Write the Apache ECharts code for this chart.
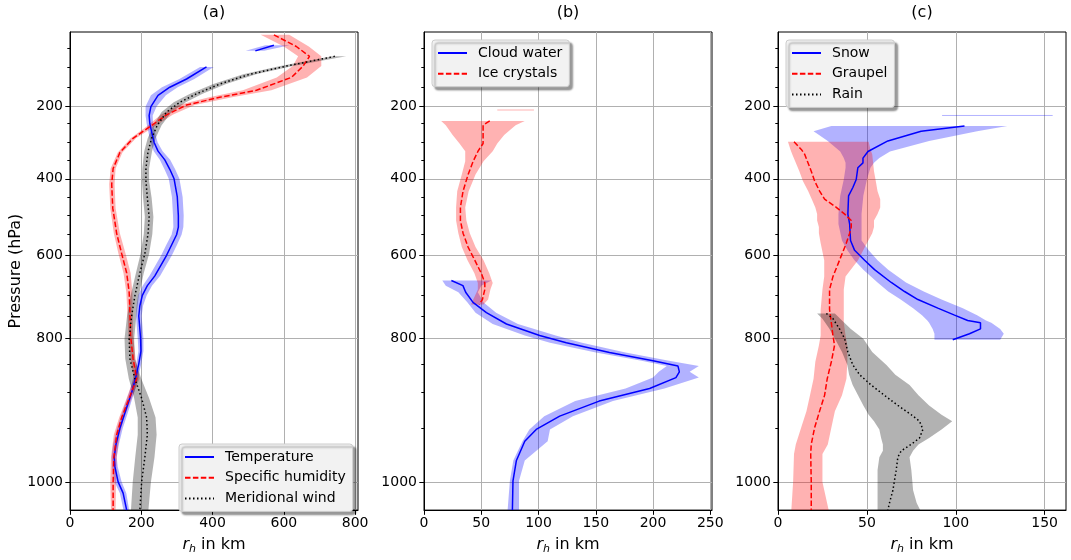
<!DOCTYPE html>
<html><head><meta charset="utf-8">
<script src="https://cdn.jsdelivr.net/npm/echarts@6/dist/echarts.min.js"></script>
<style>html,body{margin:0;padding:0;background:#fff}#c{width:1071px;height:560px}</style>
</head><body><div id="c"></div>
<script>
// ---- pressure axis scale (model-level spacing: hPa -> fraction of axis height) ----
const P_SCALE_HPA = [10,50,100,150,200,250,300,350,400,450,500,550,600,650,700,750,800,850,900,950,1000,1020];
const P_SCALE_POS = [0,0.0337,0.0746,0.1155,0.156,0.1918,0.231,0.2674,0.307,0.345,0.384,0.424,0.467,0.510,0.551,0.594,0.6405,0.694,0.754,0.829,0.941,1];
const P_MAJOR = [200,400,600,800,1000];
const P_MINOR = [50,100,150,250,300,350,450,500,550,650,700,750,850,900,950];

// ---- x axes ----
const X_TICKS_A = [0,200,400,600,800];  const X_MAX_A = 808;
const X_TICKS_B = [0,50,100,150,200,250]; const X_MAX_B = 251.5;
const X_TICKS_C = [0,50,100,150];         const X_MAX_C = 162;

// ---- panel titles / legends ----
const PANEL_TITLES = ['(a)','(b)','(c)'];
const LEGEND_A = ['Temperature','Specific humidity','Meridional wind'];
const LEGEND_B = ['Cloud water','Ice crystals'];
const LEGEND_C = ['Snow','Graupel','Rain'];

// ---- panel (a) ----
const TEMP_P   = [43,57,null,98,129,150,171,200,226,250,272,300,325,350,375,400,450,500,530,550,575,600,650,675,700,725,750,800,825,850,875,900,921,950,965,977,986,1000,1008,1020];
const TEMP_MID = [572,520,null,383,327,280,247,227,222,224,229,236,247,266,280,292,301,304,304,299,285,271,238,217,203,196,193,198,199,193,184,173,159,140,129,124,126,135,149,159];
const TEMP_LO  = [548,493,null,365,307,258,227,212,212,215,220,226,235,252,265,277,286,289,290,285,270,256,223,204,191,187,185,190,192,186,177,166,151,132,121,117,118,125,140,150];
const TEMP_HI  = [616,545,null,403,349,302,269,243,232,233,238,246,260,281,295,307,316,319,318,313,300,286,253,230,215,205,201,206,206,200,191,180,167,148,137,131,134,145,158,166];

const QV_P   = [17,46,71,96,125,158,176,196,224,258,289,329,373,415,480,547,596,643,692,742,794,840,876,912,935,956,977,1000,1020];
const QV_MID = [572,635,672,654,621,523,420,327,271,224,177,140,121,117,120,131,145,159,166,168,170,177,187,163,145,131,123,121,121];
const QV_LO  = [535,600,640,625,580,485,390,305,255,214,170,134,114,110,113,123,136,150,158,161,164,170,179,156,138,123,115,113,115];
const QV_HI  = [615,670,705,705,665,565,455,350,288,236,185,147,128,125,128,140,156,170,175,176,177,184,195,170,152,139,131,129,128];

const V_P   = [71,96,117,142,167,189,216,254,289,326,372,406,452,504,548,596,643,701,750,801,840,876,908,935,956,977,1000,1020];
const V_MID = [743,607,504,420,355,308,271,245,229,219,213,213,217,222,219,210,196,182,173,166,168,182,201,215,217,210,201,196];
const V_LO  = [735,590,486,402,337,291,257,234,218,208,203,202,205,210,207,198,185,170,160,153,155,165,180,190,190,183,176,171];
const V_HI  = [775,625,522,438,372,325,285,257,240,230,222,222,229,234,231,222,207,193,186,180,182,200,222,240,243,237,227,220];

// ---- panel (b) ----
const QC_P   = [662,675,692,717,742,768,794,809,828,844,854,864,874,893,912,933,951,962,980,999,1020];
const QC_MID = [23.9,34,36.4,42.8,54.5,72,101,124.3,162,200,221.8,223,220,197,153,118.5,98,88,80.7,77.7,77.2];
const QC_LO  = [16,19,30,38,45,60,88,110,150,190,212,205,200,176,132,105,92,86,78,75,73];
const QC_HI  = [58.8,50,47,52,63,82,115,138,176,214,240,232,240,210,165,130,110,108,88,83,83];

const QI_P   = [210,null,242,254,280,303,325,354,389,434,478,513,546,580,612,644,668,685,710,722];
const QI_MID = [null,null,57.4,51.6,51.6,51.6,47.2,42.9,38.5,34.1,31.8,31.8,34.1,38.5,44.3,50.1,53.1,53.1,51,48.1];
const QI_LO  = [64,null,15,19,25,31,36,36,33,29,28,28,30,33,38,44,47,47,43,41];
const QI_HI  = [96,null,88,80,70,64,60,52,45,39,36,37,40,45,52,57,60,58,56,52];

// ---- panel (c) ----
const QS_P   = [226,null,256,270,296,326,345,358,371,402,424,447,496,522,564,588,612,635,667,690,710,731,748,760,765,779,790,803];
const QS_MID = [null,null,104.9,80.5,61.8,50.6,47.8,47.8,44.9,44,42.1,39.7,39.3,40.3,40.8,43.1,48.7,54.3,63.7,71.2,78.7,89.9,99.3,106.7,113.9,113.9,107.7,98.3];
const QS_LO  = [92.3,null,30,20,28,35,37,38,38,37,36,35,34,34,36,39,43,48,56,62,69,76,81,84,85,87,88,88];
const QS_HI  = [154.5,null,129,112,85,63,57,54,52,50,49,48,47,47,47,51,56,62,72,82,92,104,112,117,120,125,127,125];

const QG_P   = [298,320,334,380,406,434,456,478,496,513,530,546,571,612,652,685,734,765,794,814,846,876,904,926,949,965,974,1000,1020];
const QG_MID = [9,13.1,15,18.7,20.6,23.4,26.2,32.8,37.5,41.2,41.2,40.3,38.4,34.6,30.9,29,29,30,30.9,31.8,30,27.7,26.2,23.4,20.6,18.7,18.4,18.7,18.7];
const QG_LO  = [5.6,7,8,12,14,17,19,21,22,22,23,23,24,26,26,25,24,24,24,23,21,20,18,16,13,10,9,8.5,7.5];
const QG_HI  = [51,52,53,54,55,56,57.5,57.5,56,54,54,53,50,45,38,37,37,37,38,39,39,38.5,36,32,30,28,25,25,28.5];

const QR_P   = [744,756,779,801,827,852,869,887,904,918,931,940,951,959,965,971,977,989,1006,1015,1020];
const QR_MID = [27.2,30.9,34.6,37.5,39.3,42.1,45.9,52.4,59.9,67.4,74.9,79.6,81.5,79.6,74.9,69.3,67.4,66.5,64.6,62.7,61.8];
const QR_LO  = [22,25,29,32,36,39,40,42,45,48,51,54,57,58,59,59,57,56,56,56,56];
const QR_HI  = [32,35,41,48,53,61,66,74,79,85,92,98,92,85,79,76,74,75,76,78,80];

// ================= helpers =================
function pToPos(p){
  const P=P_SCALE_HPA, T=P_SCALE_POS;
  if (p<=P[0]) return T[0];
  for (let i=1;i<P.length;i++){ if (p<=P[i]){ const f=(p-P[i-1])/(P[i]-P[i-1]); return T[i-1]+f*(T[i]-T[i-1]); } }
  return T[T.length-1];
}
function posToP(t){
  const P=P_SCALE_HPA, T=P_SCALE_POS;
  if (t<=T[0]) return P[0];
  for (let i=1;i<T.length;i++){ if (t<=T[i]+1e-9){ const f=(t-T[i-1])/(T[i]-T[i-1]); return P[i-1]+f*(P[i]-P[i-1]); } }
  return P[P.length-1];
}
const FONT = 'DejaVu Sans';
const TICK_FS = 14, LABEL_FS = 16;
const BLUE='#0000ff', RED='#ff0000', BLACK='#000000';
const BAND_BLUE='rgba(0,0,255,0.3)', BAND_RED='rgba(255,0,0,0.3)', BAND_GRAY='rgba(0,0,0,0.3)';
const DASH=[5.5,2.4], DOT=[1.5,2.5];

function segments(p, lo, hi){
  const segs=[]; let cur=[];
  for (let i=0;i<p.length;i++){
    if (p[i]==null || lo[i]==null){ if(cur.length) segs.push(cur); cur=[]; continue; }
    cur.push({p:p[i], lo:lo[i], hi:hi[i]});
  }
  if (cur.length) segs.push(cur);
  return segs;
}
function bandSeries(gi, p, lo, hi, color){
  const segs = segments(p, lo, hi);
  return {
    type:'custom', xAxisIndex:gi, yAxisIndex:gi*2, silent:true, z:1, clip:true,
    data: segs.map(s=>[s[0].lo, pToPos(s[0].p)]),
    renderItem: function(params, api){
      const s = segs[params.dataIndex];
      const pts = s.map(d=>api.coord([d.lo, pToPos(d.p)]))
        .concat(s.slice().reverse().map(d=>api.coord([d.hi, pToPos(d.p)])));
      if (s.length===1) return {type:'polyline', shape:{points:pts}, style:{stroke:color, lineWidth:1, fill:null}};
      return {type:'polygon', shape:{points:pts}, style:{fill:color}};
    }
  };
}
function lineSeries(gi, name, p, mid, color, dash){
  return {
    type:'line', name:name, xAxisIndex:gi, yAxisIndex:gi*2, z:3,
    data: p.map((pp,i)=> (pp==null || mid[i]==null) ? ['-','-'] : [mid[i], pToPos(pp)]),
    symbol:'none', showSymbol:false, connectNulls:false, clip:true,
    lineStyle:{color:color, width:1.5, type: dash || 'solid', cap:'butt'},
    itemStyle:{color:color}
  };
}

const GRIDS = [
  {left:70, top:32, width:288, height:485},
  {left:424, top:32, width:288, height:485},
  {left:778, top:32, width:288, height:485}
];
const X_TICKS=[X_TICKS_A,X_TICKS_B,X_TICKS_C], X_MAX=[X_MAX_A,X_MAX_B,X_MAX_C];
const MAJOR_POS = P_MAJOR.map(pToPos), MINOR_POS = P_MINOR.map(pToPos);

const xAxes = GRIDS.map((g,i)=>({
  type:'value', gridIndex:i, min:0, max:X_MAX[i], position:'bottom',
  axisLine:{show:true, onZero:false, lineStyle:{color:'#000', width:1}},
  axisTick:{show:true, length:4.7, customValues:X_TICKS[i], lineStyle:{color:'#000', width:1}},
  axisLabel:{customValues:X_TICKS[i], fontSize:TICK_FS, color:'#000', fontFamily:FONT, margin:6},
  splitLine:{show:true, lineStyle:{color:'#b0b0b0', width:1}},
  name:'{i|r}{s|h}{n| in km}', nameLocation:'middle', nameGap:22,
  nameTextStyle:{color:'#000', fontFamily:FONT, fontSize:LABEL_FS, rich:{
    i:{fontStyle:'italic', fontSize:LABEL_FS, fontFamily:FONT, color:'#000', lineHeight:20},
    s:{fontStyle:'italic', fontSize:11, fontFamily:FONT, color:'#000', lineHeight:11, padding:[9,0,0,0]},
    n:{fontSize:LABEL_FS, fontFamily:FONT, color:'#000', lineHeight:20}
  }}
}));
const yAxes = [];
GRIDS.forEach((g,i)=>{
  yAxes.push({
    type:'value', gridIndex:i, min:0, max:1, inverse:true, position:'left',
    axisLine:{show:true, lineStyle:{color:'#000', width:1}},
    axisTick:{show:true, length:4.7, customValues:MAJOR_POS, lineStyle:{color:'#000', width:1}},
    axisLabel:{customValues:MAJOR_POS, formatter:v=>String(Math.round(posToP(v))), fontSize:TICK_FS, color:'#000', fontFamily:FONT, margin:7},
    splitLine:{show:true, lineStyle:{color:'#b0b0b0', width:1}},
    name: i===0 ? 'Pressure (hPa)' : '', nameLocation:'middle', nameGap:44, nameRotate:90,
    nameTextStyle:{color:'#000', fontFamily:FONT, fontSize:LABEL_FS}
  });
  yAxes.push({
    type:'value', gridIndex:i, min:0, max:1, inverse:true, position:'left',
    axisLine:{show:false},
    axisTick:{show:true, length:2.7, customValues:MINOR_POS, lineStyle:{color:'#000', width:1}},
    axisLabel:{show:false}, splitLine:{show:false}
  });
});

const legendCommon = {
  orient:'vertical', itemWidth:29, itemHeight:16, itemGap:4.7, selectedMode:false,
  itemStyle:{opacity:0},
  textStyle:{fontSize:TICK_FS, color:'#000', fontFamily:FONT, lineHeight:16, padding:[0,0,0,6]},
  backgroundColor:'#f2f2f2', borderColor:'#cccccc', borderWidth:1, borderRadius:3,
  shadowColor:'rgba(0,0,0,0.4)', shadowBlur:2, shadowOffsetX:3, shadowOffsetY:3,
  padding:[5,7,5,5]
};

const option = {
  animation:false,
  backgroundColor:'#ffffff',
  title: PANEL_TITLES.map((t,i)=>({
    text:t, left: GRIDS[i].left + GRIDS[i].width/2, top:5, textAlign:'center', padding:0,
    textStyle:{fontSize:LABEL_FS, fontWeight:'normal', color:'#000', fontFamily:FONT}
  })),
  grid: GRIDS.map(g=>Object.assign({show:true, borderColor:'#000', borderWidth:1, backgroundColor:'transparent', containLabel:false}, g)),
  xAxis: xAxes,
  yAxis: yAxes,
  legend: [
    Object.assign({data:LEGEND_A, left:179, top:444}, legendCommon),
    Object.assign({data:LEGEND_B, left:432, top:40}, legendCommon),
    Object.assign({data:LEGEND_C, left:786, top:40}, legendCommon)
  ],
  series: [
    bandSeries(0, TEMP_P, TEMP_LO, TEMP_HI, BAND_BLUE),
    bandSeries(0, QV_P, QV_LO, QV_HI, BAND_RED),
    bandSeries(0, V_P, V_LO, V_HI, BAND_GRAY),
    bandSeries(1, QC_P, QC_LO, QC_HI, BAND_BLUE),
    bandSeries(1, QI_P, QI_LO, QI_HI, BAND_RED),
    bandSeries(2, QS_P, QS_LO, QS_HI, BAND_BLUE),
    bandSeries(2, QG_P, QG_LO, QG_HI, BAND_RED),
    bandSeries(2, QR_P, QR_LO, QR_HI, BAND_GRAY),
    lineSeries(0, 'Temperature', TEMP_P, TEMP_MID, BLUE),
    lineSeries(0, 'Specific humidity', QV_P, QV_MID, RED, DASH),
    lineSeries(0, 'Meridional wind', V_P, V_MID, BLACK, DOT),
    lineSeries(1, 'Cloud water', QC_P, QC_MID, BLUE),
    lineSeries(1, 'Ice crystals', QI_P, QI_MID, RED, DASH),
    lineSeries(2, 'Snow', QS_P, QS_MID, BLUE),
    lineSeries(2, 'Graupel', QG_P, QG_MID, RED, DASH),
    lineSeries(2, 'Rain', QR_P, QR_MID, BLACK, DOT)
  ]
};
const chart = echarts.init(document.getElementById('c'), null, {renderer:'canvas'});
chart.setOption(option);
</script>
</body></html>
